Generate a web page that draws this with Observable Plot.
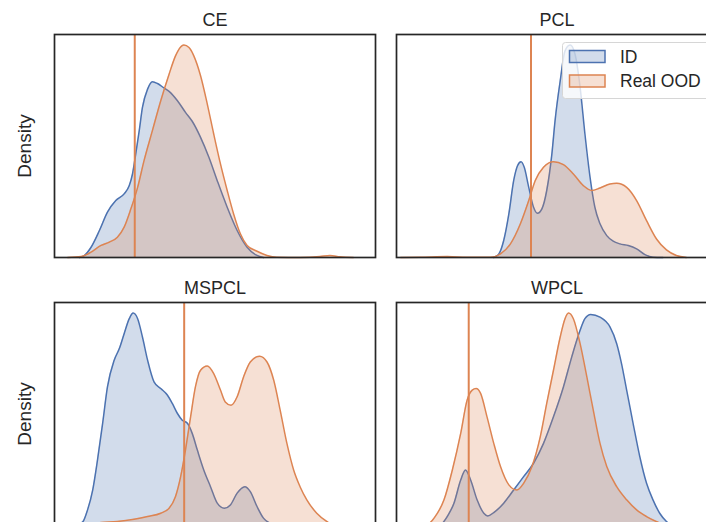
<!DOCTYPE html>
<html>
<head>
<meta charset="utf-8">
<script src="https://cdn.jsdelivr.net/npm/d3@7"></script>
<script src="https://cdn.jsdelivr.net/npm/@observablehq/plot@0.6"></script>
<style>
  html, body { margin: 0; padding: 0; background: #fff; }
  #chart { position: relative; width: 706px; height: 522px; overflow: hidden; background: #fff;
           font-family: "Liberation Sans", Arial, sans-serif; color: #262626; }
  #chart > .panel, #chart > .legend { position: absolute; }
</style>
</head>
<body>
<div id="chart"></div>
<script>
// ---- data (x: score in panel units 0..100, y: estimated density, arbitrary units) ----
const titles = ["CE", "PCL", "MSPCL", "WPCL"];
const seriesNames = ["ID", "Real OOD"];
const seriesColors = ["#4c72b0", "#dd8452"];
const yLabel = "Density";
const thresholds = [25.0, 41.9, 40.4, 22.5];

const ceId = [[7.8,0],[9.3,0.9],[11.4,4.6],[14.0,12.1],[16.5,20.3],[19.1,25.5],[21.7,28.5],[23.3,32.2],[24.3,37.4],[25.3,46.3],[26.4,56.8],[27.4,67.2],[29.0,75.4],[30.5,78.7],[32.1,77.9],[34.1,75.9],[35.7,74.4],[38.3,70.2],[40.8,65.0],[42.9,61.0],[45.5,53.8],[48.1,44.9],[50.7,34.4],[53.8,22.5],[56.9,12.1],[60.0,4.6],[62.6,1.3],[65.1,0]];
const ceOod = [[4.1,0],[8.3,0.4],[11.4,2.4],[14.5,5.4],[17.1,6.9],[19.6,9.1],[21.7,13.6],[23.8,21.8],[25.9,31.4],[27.9,43.4],[30.5,56.8],[33.1,70.2],[35.7,82.1],[37.7,90.3],[39.3,94.3],[40.3,95.1],[41.9,94.0],[43.4,90.3],[45.5,81.4],[47.6,68.7],[49.6,55.3],[51.7,41.9],[53.8,30.0],[55.8,19.5],[57.9,10.6],[60.0,5.4],[63.1,2.8],[66.2,0.9],[69.3,0.1],[76.5,0],[82.7,0.4],[85.8,0.9],[88.9,0.3],[93.1,0]];

const pclId = [[30.3,0],[31.9,1.6],[33.4,7.6],[35.0,19.5],[36.5,34.4],[37.7,41.1],[38.8,42.9],[39.8,40.4],[41.2,31.4],[42.7,22.5],[43.9,19.8],[45.3,21.8],[46.8,30.0],[48.4,46.3],[49.4,61.3],[51.0,79.1],[52.5,92.5],[54.1,95.1],[55.6,91.1],[57.2,76.2],[58.7,55.3],[60.3,35.9],[61.8,22.5],[63.4,15.1],[65.5,9.8],[67.5,7.3],[69.6,6.1],[72.2,5.4],[74.8,3.9],[77.4,1.3],[79.9,0.1],[83.0,0]];
const pclOod = [[1.3,0],[7.5,0.1],[15.8,0.4],[22.0,0.1],[29.3,0.1],[32.4,1.6],[35.5,6.1],[38.6,15.1],[41.2,25.5],[43.2,34.4],[45.8,40.4],[48.9,42.9],[52.0,41.6],[55.1,37.4],[58.2,32.2],[60.8,30.0],[63.4,31.1],[66.5,32.9],[68.6,33.2],[71.7,31.4],[74.8,25.5],[77.9,16.5],[81.0,8.3],[84.1,3.4],[87.2,0.9],[90.3,0]];

const mspclId = [[6.2,0],[8.8,1.6],[10.3,7.0],[11.9,15.9],[13.4,29.4],[15.0,45.8],[16.5,62.1],[18.6,74.1],[20.2,79.3],[21.7,86.0],[23.3,92.7],[24.5,95.2],[25.9,92.7],[27.4,84.5],[29.0,74.1],[31.0,64.4],[33.1,61.4],[35.2,58.4],[36.7,54.7],[38.3,50.2],[39.8,47.2],[41.4,45.8],[42.9,41.3],[44.5,33.8],[46.5,24.9],[48.6,17.4],[50.7,10.0],[52.9,7.7],[54.8,9.2],[56.9,14.5],[59.3,17.4],[61.0,15.2],[63.1,8.5],[65.1,3.3],[67.2,1.0],[69.3,0]];
const mspclOod = [[7.2,0],[14.5,1.3],[19.6,1.8],[24.8,2.8],[29.0,4.0],[33.1,5.5],[35.7,7.7],[37.7,13.0],[39.3,21.9],[40.8,33.8],[42.4,48.7],[43.9,62.1],[45.5,69.6],[47.6,71.5],[49.6,68.1],[51.7,60.7],[53.2,55.4],[55.0,53.9],[56.9,57.7],[58.9,66.6],[61.0,73.3],[63.9,75.9],[66.2,73.3],[68.3,65.1],[70.3,51.7],[72.4,36.8],[74.5,24.9],[76.5,17.4],[78.6,11.5],[81.7,5.5],[84.8,1.8],[86.9,0]];

const wpclId = [[13.8,0],[15.8,4.0],[17.9,10.0],[20.0,20.4],[21.5,24.9],[23.1,20.4],[25.1,11.5],[27.2,5.5],[28.4,4.3],[30.3,5.8],[33.4,10.0],[36.5,15.9],[39.6,21.9],[42.7,27.9],[45.8,36.8],[48.9,48.7],[52.0,62.1],[54.6,75.6],[57.2,87.5],[58.7,92.7],[60.5,94.6],[63.4,93.4],[66.5,89.0],[68.6,81.5],[70.1,72.6],[71.7,60.7],[73.7,45.8],[75.8,30.8],[77.9,18.9],[79.9,11.5],[82.0,5.5],[84.1,1.8],[86.1,0]];
const wpclOod = [[9.6,0],[11.7,3.3],[14.8,11.5],[17.4,24.9],[20.0,41.3],[22.0,56.2],[23.6,60.7],[24.8,61.4],[26.2,59.2],[28.2,48.7],[30.3,36.8],[32.4,26.4],[35.0,18.2],[37.5,15.9],[39.6,18.9],[42.2,26.4],[44.8,39.8],[46.8,54.7],[48.9,69.6],[51.0,84.5],[52.5,92.7],[53.6,95.2],[55.1,92.7],[57.2,81.5],[59.3,66.6],[61.3,51.7],[63.4,36.8],[65.5,26.4],[68.6,17.4],[71.7,11.5],[74.8,7.0],[77.9,4.0],[80.9,1.8],[84.0,0]];

// ---- layout ----
const panels = [
  {title: titles[0], series: [ceId, ceOod], t: thresholds[0], left: 0, top: 0, ylabel: true},
  {title: titles[1], series: [pclId, pclOod], t: thresholds[1], left: 342, top: 0, ylabel: false},
  {title: titles[2], series: [mspclId, mspclOod], t: thresholds[2], left: 0, top: 268, ylabel: true},
  {title: titles[3], series: [wpclId, wpclOod], t: thresholds[3], left: 342, top: 268, ylabel: false}
];

const chart = document.getElementById("chart");
const ink = "#262626";
const fontFamily = '"Liberation Sans", Arial, sans-serif';

for (const p of panels) {
  const rows = p.series.map((pts, i) => pts.map(([x, y]) => ({x, y, s: seriesNames[i]})));
  const ymax = d3.max(rows.flat(), d => d.y) * 1.05;
  const marks = [];
  rows.forEach((r) => {
    marks.push(Plot.areaY(r, {x: "x", y: "y", fill: "s", fillOpacity: 0.25, curve: "monotone-x"}));
    marks.push(Plot.lineY(r, {x: "x", y: "y", stroke: "s", strokeWidth: 1.5, curve: "monotone-x"}));
  });
  marks.push(Plot.ruleX([p.t], {stroke: seriesColors[1], strokeWidth: 2}));
  marks.push(Plot.frame({stroke: ink, strokeWidth: 1.7}));
  marks.push(Plot.text([p.title], {frameAnchor: "top", dy: -9, lineAnchor: "bottom", textAnchor: "middle", fontSize: 18, fill: ink}));
  if (p.ylabel) {
    marks.push(Plot.text([yLabel], {frameAnchor: "left", dx: -24, rotate: -90, lineAnchor: "bottom", textAnchor: "middle", fontSize: 19, fill: ink}));
  }
  const svg = Plot.plot({
    width: 379, height: 263,
    marginLeft: 54, marginRight: 4, marginTop: 34, marginBottom: 6,
    x: {domain: [0, 100], axis: null},
    y: {domain: [0, ymax], axis: null},
    color: {domain: seriesNames, range: seriesColors},
    style: {fontFamily, fontSize: "17px", color: ink, background: "transparent", overflow: "visible"},
    marks
  });
  svg.classList.add("panel");
  svg.style.left = p.left + "px";
  svg.style.top = p.top + "px";
  chart.appendChild(svg);
}

// ---- legend (upper right of the PCL panel) ----
const leg = d3.select(chart).append("svg").attr("class", "legend")
  .attr("width", 160).attr("height", 60)
  .style("left", "561.5px").style("top", "42px").style("overflow", "visible");
leg.append("rect").attr("x", 0.5).attr("y", 0.5).attr("width", 155).attr("height", 56)
  .attr("rx", 3).attr("fill", "rgba(255,255,255,0.8)").attr("stroke", "#d6d6d6").attr("stroke-width", 1);
seriesNames.forEach((name, i) => {
  const g = leg.append("g").attr("transform", `translate(0,${i * 24.5})`);
  g.append("rect").attr("x", 7.5).attr("y", 8.5).attr("width", 35.5).attr("height", 12)
    .attr("fill", seriesColors[i]).attr("fill-opacity", 0.25)
    .attr("stroke", seriesColors[i]).attr("stroke-width", 1.5);
  g.append("text").attr("x", 58).attr("y", 20.7).text(name)
    .attr("font-family", fontFamily).attr("font-size", 17.5).attr("fill", ink);
});
</script>
</body>
</html>
